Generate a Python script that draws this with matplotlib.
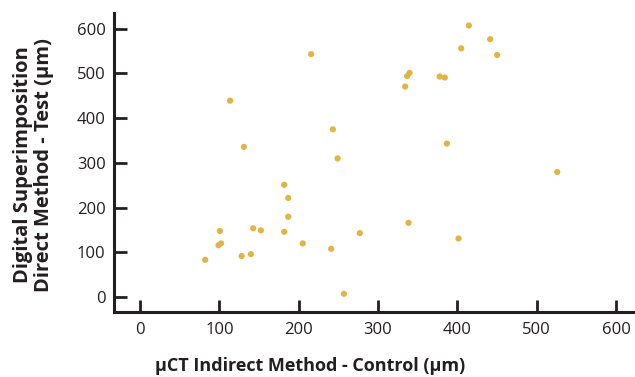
import matplotlib
matplotlib.use("Agg")
import matplotlib.pyplot as plt

x_vals = [82, 98.8, 102, 100.5, 113.5, 128, 130.8, 139.6, 142.5, 152.2, 181.6, 186.7,
          186.7, 181.6, 215.6, 205, 240.9, 243, 249, 257, 277,
          414.5, 441.4, 404.8, 450.2, 339.7, 336.7, 334.2, 377.6, 384.2, 386.8,
          525.9, 338.4, 401.5]
y_vals = [83.5, 116, 120, 147.7, 439, 91.7, 335.6, 96, 153.6, 149, 251, 221.5,
          179.6, 146, 543, 120, 108, 375, 310, 7.4, 143,
          607, 576.5, 556, 541, 501, 494, 470.5, 493, 490.7, 343,
          279.6, 166, 131]
xticks = [0, 100, 200, 300, 400, 500, 600]
yticks = [0, 100, 200, 300, 400, 500, 600]

plt.rcParams['font.family'] = ['Open Sans', 'DejaVu Sans']
fig = plt.figure(figsize=(6.35, 3.77), dpi=100)
ax = fig.add_axes([0.1795, 0.1716, 0.8205, 0.794])
ax.scatter(x_vals, y_vals, s=20, color='#E2B443', edgecolors='none', zorder=3)
ax.set_xlim(-33, 624)
ax.set_ylim(-34, 635)
ax.set_xticks(xticks)
ax.set_yticks(yticks)
for s in ['top', 'right']:
    ax.spines[s].set_visible(False)
for s in ['left', 'bottom']:
    ax.spines[s].set_linewidth(2.2)
    ax.spines[s].set_color('#231f20')
ax.tick_params(direction='in', length=9, width=2, color='#231f20',
               labelsize=12, labelcolor='#231f20', pad=6)
ax.tick_params(axis='x', pad=7)
fig.text(310 / 635, 1 - 366 / 377, 'μCT Indirect Method - Control (μm)', fontsize=13,
         fontweight='bold', color='#231f20', ha='center', va='center')
fig.text(33.5 / 635, 1 - 165 / 377, 'Digital Superimposition\nDirect Method - Test (μm)',
         fontsize=14.5, fontweight='bold', color='#231f20', rotation=90,
         ha='center', va='center', multialignment='center', linespacing=1.1)
fig.savefig('out.png', dpi=100)
